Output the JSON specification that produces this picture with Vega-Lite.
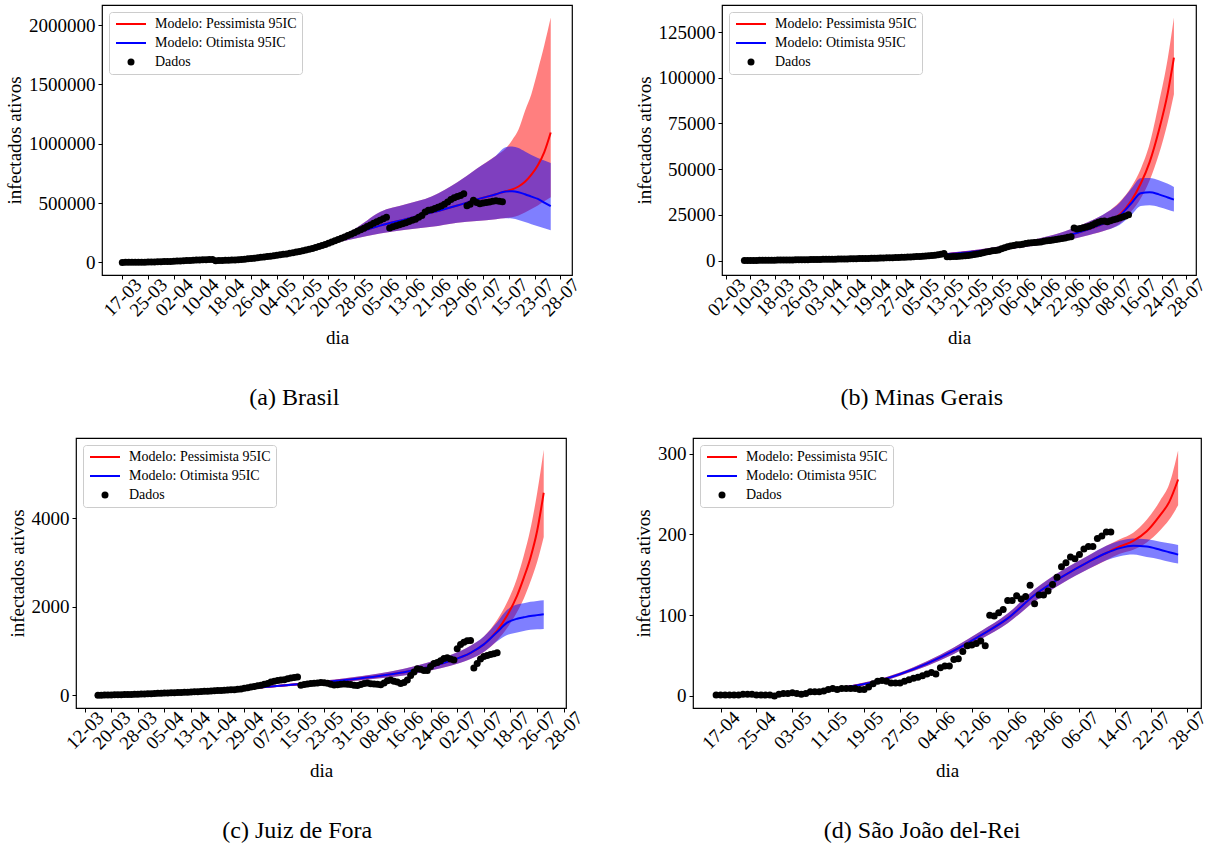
{
"$schema": "https://vega.github.io/schema/vega-lite/v6.json",
"background": "white",
"padding": {"left": 4, "top": 4, "right": 0, "bottom": 0},
"datasets": {
"aM": [
{"x":40,"r":35000,"rl":32000,"rh":38000,"b":35000,"bl":32000,"bh":38000},
{"x":48,"r":62000,"rl":56000,"rh":68000,"b":62000,"bl":56000,"bh":68000},
{"x":56,"r":100000,"rl":90000,"rh":112000,"b":100000,"bl":90000,"bh":112000},
{"x":64,"r":165000,"rl":150000,"rh":185000,"b":165000,"bl":150000,"bh":185000},
{"x":72,"r":240000,"rl":200000,"rh":280000,"b":240000,"bl":200000,"bh":280000},
{"x":80,"r":310000,"rl":243000,"rh":425000,"b":310000,"bl":243000,"bh":425000},
{"x":88,"r":365000,"rl":275000,"rh":490000,"b":365000,"bl":275000,"bh":490000},
{"x":96,"r":420000,"rl":300000,"rh":555000,"b":420000,"bl":300000,"bh":555000},
{"x":104,"r":480000,"rl":335000,"rh":676000,"b":480000,"bl":335000,"bh":676000},
{"x":110,"r":530000,"rl":350000,"rh":790000,"b":530000,"bl":350000,"bh":790000},
{"x":116,"r":575000,"rl":365000,"rh":900000,"b":575000,"bl":365000,"bh":900000},
{"x":119,"r":600000,"rl":375000,"rh":960000,"b":598000,"bl":372000,"bh":970000},
{"x":121,"r":615000,"rl":380000,"rh":1030000,"b":600000,"bl":370000,"bh":977000},
{"x":123,"r":640000,"rl":395000,"rh":1120000,"b":592000,"bl":358000,"bh":965000},
{"x":125,"r":680000,"rl":420000,"rh":1276000,"b":575000,"bl":340000,"bh":935000},
{"x":127,"r":740000,"rl":450000,"rh":1420000,"b":555000,"bl":322000,"bh":905000},
{"x":129,"r":820000,"rl":480000,"rh":1620000,"b":535000,"bl":305000,"bh":880000},
{"x":131,"r":930000,"rl":515000,"rh":1830000,"b":505000,"bl":288000,"bh":860000},
{"x":133,"r":1095000,"rl":550000,"rh":2064000,"b":475000,"bl":271000,"bh":838000}
],
"aP": [
{"x":0,"y":300},{"x":1,"y":450},{"x":2,"y":600},{"x":3,"y":900},{"x":4,"y":1100},{"x":5,"y":1500},{"x":6,"y":2000},{"x":7,"y":2500},{"x":8,"y":3000},{"x":9,"y":3500},
{"x":10,"y":4200},{"x":11,"y":5000},{"x":12,"y":5800},{"x":13,"y":6800},{"x":14,"y":7500},{"x":15,"y":8500},{"x":16,"y":10000},{"x":17,"y":11000},{"x":18,"y":12500},{"x":19,"y":14000},
{"x":20,"y":15500},{"x":21,"y":16500},{"x":22,"y":18000},{"x":23,"y":19500},{"x":24,"y":21000},{"x":25,"y":22500},{"x":26,"y":23000},{"x":27,"y":24000},{"x":28,"y":25000},{"x":29,"y":15000},
{"x":30,"y":16000},{"x":31,"y":17000},{"x":32,"y":17500},{"x":33,"y":18000},{"x":34,"y":19500},{"x":35,"y":21000},{"x":36,"y":23000},{"x":37,"y":25000},{"x":38,"y":27000},{"x":39,"y":30000},
{"x":40,"y":33000},{"x":41,"y":36000},{"x":42,"y":40000},{"x":43,"y":43000},{"x":44,"y":46000},{"x":45,"y":49000},{"x":46,"y":52000},{"x":47,"y":56000},{"x":48,"y":60000},{"x":49,"y":64000},
{"x":50,"y":68000},{"x":51,"y":72000},{"x":52,"y":77000},{"x":53,"y":82000},{"x":54,"y":87000},{"x":55,"y":92000},{"x":56,"y":98000},{"x":57,"y":104000},{"x":58,"y":111000},{"x":59,"y":118000},
{"x":60,"y":126000},{"x":61,"y":134000},{"x":62,"y":143000},{"x":63,"y":152000},{"x":64,"y":162000},{"x":65,"y":172000},{"x":66,"y":182000},{"x":67,"y":193000},{"x":68,"y":204000},{"x":69,"y":215000},
{"x":70,"y":226000},{"x":71,"y":238000},{"x":72,"y":250000},{"x":73,"y":262000},{"x":74,"y":275000},{"x":75,"y":288000},{"x":76,"y":302000},{"x":77,"y":316000},{"x":78,"y":330000},{"x":79,"y":343000},
{"x":80,"y":355000},{"x":81,"y":368000},{"x":82,"y":380000},{"x":83,"y":290000},{"x":84,"y":300000},{"x":85,"y":310000},{"x":86,"y":318000},{"x":87,"y":327000},{"x":88,"y":335000},{"x":89,"y":345000},
{"x":90,"y":355000},{"x":91,"y":365000},{"x":92,"y":380000},{"x":93,"y":395000},{"x":94,"y":425000},{"x":95,"y":440000},{"x":96,"y":445000},{"x":97,"y":455000},{"x":98,"y":465000},{"x":99,"y":475000},
{"x":100,"y":490000},{"x":101,"y":510000},{"x":102,"y":530000},{"x":103,"y":545000},{"x":104,"y":555000},{"x":105,"y":565000},{"x":106,"y":578000},{"x":107,"y":478000},{"x":108,"y":490000},{"x":109,"y":525000},
{"x":110,"y":505000},{"x":111,"y":495000},{"x":112,"y":500000},{"x":113,"y":505000},{"x":114,"y":510000},{"x":115,"y":515000},{"x":116,"y":520000},{"x":117,"y":515000},{"x":118,"y":512000}
],
"bM": [
{"x":60,"r":2200,"rl":2000,"rh":2500,"b":2200,"bl":2000,"bh":2500},
{"x":72,"r":3400,"rl":3000,"rh":3900,"b":3400,"bl":3000,"bh":3900},
{"x":80,"r":4600,"rl":4000,"rh":5300,"b":4600,"bl":4000,"bh":5300},
{"x":88,"r":6100,"rl":5200,"rh":7100,"b":6100,"bl":5200,"bh":7100},
{"x":96,"r":8000,"rl":6800,"rh":9500,"b":8000,"bl":6800,"bh":9500},
{"x":104,"r":10300,"rl":8700,"rh":12300,"b":10300,"bl":8700,"bh":12300},
{"x":112,"r":13300,"rl":11000,"rh":16000,"b":13300,"bl":11000,"bh":16000},
{"x":120,"r":17300,"rl":14000,"rh":21300,"b":17300,"bl":14000,"bh":21300},
{"x":126,"r":21000,"rl":16800,"rh":26500,"b":21000,"bl":16800,"bh":26500},
{"x":130,"r":25000,"rl":20000,"rh":32000,"b":24500,"bl":19500,"bh":31500},
{"x":134,"r":33000,"rl":27000,"rh":40500,"b":31500,"bl":25000,"bh":39500},
{"x":137,"r":42000,"rl":34000,"rh":50000,"b":36800,"bl":29800,"bh":45000},
{"x":140,"r":54000,"rl":44000,"rh":64000,"b":37300,"bl":30200,"bh":45200},
{"x":143,"r":71000,"rl":58000,"rh":86000,"b":36200,"bl":29300,"bh":44000},
{"x":146,"r":92000,"rl":76000,"rh":111000,"b":34500,"bl":27800,"bh":42000},
{"x":148,"r":111000,"rl":91000,"rh":133000,"b":33300,"bl":26800,"bh":40300}
],
"bP": [
{"x":6,"y":50},{"x":7,"y":60},{"x":8,"y":70},{"x":9,"y":80},{"x":10,"y":100},{"x":11,"y":110},{"x":12,"y":130},{"x":13,"y":150},{"x":14,"y":180},{"x":15,"y":200},
{"x":16,"y":220},{"x":17,"y":250},{"x":18,"y":270},{"x":19,"y":300},{"x":20,"y":320},{"x":21,"y":340},{"x":22,"y":370},{"x":23,"y":400},{"x":24,"y":420},{"x":25,"y":450},
{"x":26,"y":480},{"x":27,"y":500},{"x":28,"y":530},{"x":29,"y":560},{"x":30,"y":590},{"x":31,"y":620},{"x":32,"y":650},{"x":33,"y":680},{"x":34,"y":710},{"x":35,"y":740},
{"x":36,"y":770},{"x":37,"y":800},{"x":38,"y":830},{"x":39,"y":860},{"x":40,"y":900},{"x":41,"y":940},{"x":42,"y":980},{"x":43,"y":1020},{"x":44,"y":1060},{"x":45,"y":1100},
{"x":46,"y":1140},{"x":47,"y":1180},{"x":48,"y":1230},{"x":49,"y":1280},{"x":50,"y":1330},{"x":51,"y":1380},{"x":52,"y":1430},{"x":53,"y":1480},{"x":54,"y":1540},{"x":55,"y":1600},
{"x":56,"y":1660},{"x":57,"y":1720},{"x":58,"y":1790},{"x":59,"y":1860},{"x":60,"y":1930},{"x":61,"y":2000},{"x":62,"y":2080},{"x":63,"y":2160},{"x":64,"y":2250},{"x":65,"y":2350},
{"x":66,"y":2450},{"x":67,"y":2600},{"x":68,"y":2750},{"x":69,"y":2950},{"x":70,"y":3200},{"x":71,"y":3500},{"x":72,"y":3800},{"x":73,"y":2100},{"x":74,"y":2150},{"x":75,"y":2200},
{"x":76,"y":2250},{"x":77,"y":2350},{"x":78,"y":2450},{"x":79,"y":2600},{"x":80,"y":2800},{"x":81,"y":3000},{"x":82,"y":3300},{"x":83,"y":3600},{"x":84,"y":3900},{"x":85,"y":4300},
{"x":86,"y":4700},{"x":87,"y":5000},{"x":88,"y":5300},{"x":89,"y":5500},{"x":90,"y":5800},{"x":91,"y":6400},{"x":92,"y":7000},{"x":93,"y":7600},{"x":94,"y":8000},{"x":95,"y":8300},
{"x":96,"y":8600},{"x":97,"y":8700},{"x":98,"y":8900},{"x":99,"y":9300},{"x":100,"y":9600},{"x":101,"y":9800},{"x":102,"y":9900},{"x":103,"y":10000},{"x":104,"y":10200},{"x":105,"y":10500},
{"x":106,"y":10800},{"x":107,"y":11000},{"x":108,"y":11300},{"x":109,"y":11500},{"x":110,"y":11800},{"x":111,"y":12100},{"x":112,"y":12400},{"x":113,"y":12700},{"x":114,"y":13000},{"x":115,"y":17800},
{"x":116,"y":17300},{"x":117,"y":17600},{"x":118,"y":18000},{"x":119,"y":18400},{"x":120,"y":18800},{"x":121,"y":19500},{"x":122,"y":20300},{"x":123,"y":21000},{"x":124,"y":21500},{"x":125,"y":21700},
{"x":126,"y":21200},{"x":127,"y":21800},{"x":128,"y":22300},{"x":129,"y":22800},{"x":130,"y":23300},{"x":131,"y":23800},{"x":132,"y":24400},{"x":133,"y":25000}
],
"cM": [
{"x":40,"r":110,"rl":100,"rh":120,"b":110,"bl":100,"bh":120},
{"x":48,"r":150,"rl":135,"rh":165,"b":150,"bl":135,"bh":165},
{"x":56,"r":200,"rl":180,"rh":220,"b":200,"bl":180,"bh":220},
{"x":64,"r":250,"rl":225,"rh":280,"b":250,"bl":225,"bh":280},
{"x":72,"r":300,"rl":270,"rh":335,"b":300,"bl":270,"bh":335},
{"x":80,"r":360,"rl":320,"rh":405,"b":360,"bl":320,"bh":405},
{"x":88,"r":430,"rl":380,"rh":490,"b":430,"bl":380,"bh":490},
{"x":96,"r":520,"rl":450,"rh":600,"b":520,"bl":450,"bh":600},
{"x":104,"r":650,"rl":560,"rh":760,"b":650,"bl":560,"bh":760},
{"x":110,"r":780,"rl":670,"rh":910,"b":780,"bl":670,"bh":910},
{"x":116,"r":960,"rl":820,"rh":1120,"b":960,"bl":820,"bh":1120},
{"x":120,"r":1150,"rl":980,"rh":1330,"b":1150,"bl":980,"bh":1330},
{"x":124,"r":1460,"rl":1240,"rh":1700,"b":1430,"bl":1220,"bh":1650},
{"x":127,"r":1800,"rl":1520,"rh":2100,"b":1640,"bl":1360,"bh":1930},
{"x":130,"r":2250,"rl":1880,"rh":2650,"b":1730,"bl":1420,"bh":2050},
{"x":132,"r":2650,"rl":2180,"rh":3150,"b":1760,"bl":1450,"bh":2080},
{"x":134,"r":3100,"rl":2560,"rh":3750,"b":1790,"bl":1480,"bh":2110},
{"x":136,"r":3700,"rl":3000,"rh":4550,"b":1810,"bl":1490,"bh":2130},
{"x":138,"r":4570,"rl":3570,"rh":5540,"b":1830,"bl":1500,"bh":2143}
],
"cP": [
{"x":4,"y":3},{"x":5,"y":5},{"x":6,"y":7},{"x":7,"y":9},{"x":8,"y":11},{"x":9,"y":13},{"x":10,"y":15},{"x":11,"y":17},{"x":12,"y":19},{"x":13,"y":21},
{"x":14,"y":23},{"x":15,"y":25},{"x":16,"y":28},{"x":17,"y":31},{"x":18,"y":34},{"x":19,"y":37},{"x":20,"y":40},{"x":21,"y":43},{"x":22,"y":46},{"x":23,"y":49},
{"x":24,"y":52},{"x":25,"y":55},{"x":26,"y":58},{"x":27,"y":61},{"x":28,"y":64},{"x":29,"y":67},{"x":30,"y":70},{"x":31,"y":73},{"x":32,"y":76},{"x":33,"y":80},
{"x":34,"y":84},{"x":35,"y":88},{"x":36,"y":92},{"x":37,"y":96},{"x":38,"y":100},{"x":39,"y":104},{"x":40,"y":108},{"x":41,"y":112},{"x":42,"y":116},{"x":43,"y":120},
{"x":44,"y":125},{"x":45,"y":130},{"x":46,"y":136},{"x":47,"y":145},{"x":48,"y":160},{"x":49,"y":175},{"x":50,"y":190},{"x":51,"y":200},{"x":52,"y":215},{"x":53,"y":230},
{"x":54,"y":250},{"x":55,"y":270},{"x":56,"y":300},{"x":57,"y":320},{"x":58,"y":335},{"x":59,"y":345},{"x":60,"y":355},{"x":61,"y":375},{"x":62,"y":395},{"x":63,"y":405},
{"x":64,"y":415},{"x":65,"y":230},{"x":66,"y":245},{"x":67,"y":255},{"x":68,"y":270},{"x":69,"y":275},{"x":70,"y":280},{"x":71,"y":290},{"x":72,"y":285},{"x":73,"y":275},
{"x":74,"y":250},{"x":75,"y":235},{"x":76,"y":240},{"x":77,"y":250},{"x":78,"y":255},{"x":79,"y":250},{"x":80,"y":245},{"x":81,"y":230},{"x":82,"y":225},{"x":83,"y":245},
{"x":84,"y":270},{"x":85,"y":280},{"x":86,"y":265},{"x":87,"y":255},{"x":88,"y":250},{"x":89,"y":240},{"x":90,"y":280},{"x":91,"y":330},{"x":92,"y":345},{"x":93,"y":320},
{"x":94,"y":300},{"x":95,"y":270},{"x":96,"y":290},{"x":97,"y":350},{"x":98,"y":450},{"x":99,"y":530},{"x":100,"y":600},{"x":101,"y":590},{"x":102,"y":560},{"x":103,"y":560},
{"x":104,"y":650},{"x":105,"y":720},{"x":106,"y":740},{"x":107,"y":780},{"x":108,"y":830},{"x":109,"y":850},{"x":110,"y":820},{"x":111,"y":800},{"x":112,"y":1050},{"x":113,"y":1150},
{"x":114,"y":1200},{"x":115,"y":1230},{"x":116,"y":1240},{"x":117,"y":620},{"x":118,"y":720},{"x":119,"y":820},{"x":120,"y":880},{"x":121,"y":900},{"x":122,"y":920},{"x":123,"y":940},{"x":124,"y":960}
],
"dM": [
{"x":28,"r":11,"rl":10,"rh":12,"b":11,"bl":10,"bh":12},
{"x":34,"r":17,"rl":15,"rh":19,"b":17,"bl":15,"bh":19},
{"x":40,"r":27,"rl":25,"rh":29,"b":27,"bl":25,"bh":29},
{"x":46,"r":40,"rl":37,"rh":43,"b":40,"bl":37,"bh":43},
{"x":52,"r":56,"rl":52,"rh":60,"b":56,"bl":52,"bh":60},
{"x":58,"r":75,"rl":70,"rh":80,"b":75,"bl":70,"bh":80},
{"x":64,"r":96,"rl":90,"rh":102,"b":96,"bl":90,"bh":102},
{"x":70,"r":125,"rl":117,"rh":132,"b":125,"bl":117,"bh":132},
{"x":76,"r":147,"rl":139,"rh":155,"b":147,"bl":139,"bh":155},
{"x":82,"r":166,"rl":157,"rh":174,"b":166,"bl":157,"bh":174},
{"x":86,"r":177,"rl":168,"rh":186,"b":177,"bl":168,"bh":186},
{"x":89,"r":185,"rl":176,"rh":194,"b":183,"bl":173,"bh":192},
{"x":92,"r":192,"rl":181,"rh":202,"b":186,"bl":175,"bh":195},
{"x":95,"r":204,"rl":190,"rh":218,"b":185,"bl":172,"bh":194},
{"x":98,"r":224,"rl":205,"rh":242,"b":181,"bl":169,"bh":191},
{"x":100,"r":240,"rl":218,"rh":262,"b":178,"bl":166,"bh":189},
{"x":102,"r":268,"rl":236,"rh":304,"b":175,"bl":164,"bh":187}
],
"dP": [
{"x":-1,"y":1},{"x":0,"y":1},{"x":1,"y":1},{"x":2,"y":1},{"x":3,"y":1},{"x":4,"y":1},{"x":5,"y":2},{"x":6,"y":2},{"x":7,"y":2},{"x":8,"y":1},
{"x":9,"y":1},{"x":10,"y":1},{"x":11,"y":1},{"x":12,"y":0},{"x":13,"y":2},{"x":14,"y":3},{"x":15,"y":3},{"x":16,"y":4},{"x":17,"y":3},{"x":18,"y":2},
{"x":19,"y":3},{"x":20,"y":5},{"x":21,"y":5},{"x":22,"y":5},{"x":23,"y":6},{"x":24,"y":8},{"x":25,"y":9},{"x":26,"y":8},{"x":27,"y":9},{"x":28,"y":9},
{"x":29,"y":9},{"x":30,"y":9},{"x":31,"y":8},{"x":32,"y":8},{"x":33,"y":11},{"x":34,"y":15},{"x":35,"y":18},{"x":36,"y":19},{"x":37,"y":18},{"x":38,"y":16},
{"x":39,"y":16},{"x":40,"y":16},{"x":41,"y":18},{"x":42,"y":20},{"x":43,"y":22},{"x":44,"y":23},{"x":45,"y":25},{"x":46,"y":27},{"x":47,"y":29},{"x":48,"y":27},
{"x":49,"y":35},{"x":50,"y":37},{"x":51,"y":37},{"x":52,"y":45},{"x":53,"y":46},{"x":54,"y":55},{"x":55,"y":62},{"x":56,"y":63},{"x":57,"y":65},{"x":58,"y":68},
{"x":59,"y":62},{"x":60,"y":100},{"x":61,"y":99},{"x":62,"y":103},{"x":63,"y":107},{"x":64,"y":118},{"x":65,"y":118},{"x":66,"y":124},{"x":67,"y":120},{"x":68,"y":123},
{"x":69,"y":137},{"x":70,"y":114},{"x":71,"y":125},{"x":72,"y":125},{"x":73,"y":130},{"x":74,"y":138},{"x":75,"y":147},{"x":76,"y":160},{"x":77,"y":165},{"x":78,"y":172},
{"x":79,"y":170},{"x":80,"y":175},{"x":81,"y":182},{"x":82,"y":185},{"x":83,"y":185},{"x":84,"y":195},{"x":85,"y":198},{"x":86,"y":203},{"x":87,"y":203}
]
},
"vconcat": [
{"hconcat": [
{"hconcat": [
{"width": 1, "height": 1, "data": {"values": []}, "mark": "point", "view": {"stroke": "transparent", "fill": "transparent"}},
{"width": 470, "height": 270, "title": "(a) Brasil",
"layer": [
{"data": {"name": "aM"}, "mark": {"type": "area", "color": "#ff0000", "opacity": 0.5, "interpolate": "monotone"},
"encoding": {"x": {"field": "x", "type": "quantitative", "title": "dia", "scale": {"domain": [-6.3, 139.6], "nice": false, "zero": false}, "axis": {"tickCount": 60, "labelOverlap": false, "values": [0,8,16,24,32,40,48,56,64,72,80,88,96,104,112,120,128,136], "labelExpr": "['17-03','25-03','02-04','10-04','18-04','26-04','04-05','12-05','20-05','28-05','05-06','13-06','21-06','29-06','07-07','15-07','23-07','28-07'][round(datum.value/8)]"}},
"y": {"field": "rl", "type": "quantitative", "title": "infectados ativos", "scale": {"domain": [-106000, 2170000], "nice": false, "zero": false}, "axis": {"tickCount": 20, "labelOverlap": false, "values": [0,500000,1000000,1500000,2000000], "format": "d"}},
"y2": {"field": "rh"}}},
{"data": {"name": "aM"}, "mark": {"type": "area", "color": "#0000ff", "opacity": 0.5, "interpolate": "monotone"},
"encoding": {"x": {"field": "x", "type": "quantitative", "title": "dia"}, "y": {"field": "bl", "type": "quantitative", "title": "infectados ativos"}, "y2": {"field": "bh"}}},
{"data": {"name": "aM"}, "mark": {"type": "line", "strokeWidth": 2, "interpolate": "monotone"},
"encoding": {"x": {"field": "x", "type": "quantitative", "title": "dia"}, "y": {"field": "r", "type": "quantitative", "title": "infectados ativos"},
"color": {"datum": "Modelo: Pessimista 95IC", "type": "nominal", "scale": {"domain": ["Modelo: Pessimista 95IC", "Modelo: Otimista 95IC", "Dados"], "range": ["#ff0000", "#0000ff", "#000000"]},
"legend": {"title": null, "orient": "top-left", "offset": 7, "padding": 5, "rowPadding": 5, "symbolOffset": 10, "labelOffset": 17, "symbolSize": 400, "strokeColor": "#cccccc", "fillColor": "white", "cornerRadius": 3, "labelFont": "Liberation Serif", "labelFontSize": 14, "labelColor": "black",
"encode": {"symbols": {"update": {"shape": {"signal": "datum.value === 'Dados' ? 'circle' : 'M-1.5,0L1.5,0'"}, "fill": {"signal": "datum.value === 'Dados' ? '#000000' : 'transparent'"}, "stroke": {"signal": "datum.value === 'Dados' ? '#000000' : (datum.value === 'Modelo: Pessimista 95IC' ? '#ff0000' : '#0000ff')"}, "strokeWidth": {"signal": "datum.value === 'Dados' ? 0 : 2"}, "size": {"signal": "datum.value === 'Dados' ? 49 : 400"}, "opacity": {"value": 1}}}}}}}},
{"data": {"name": "aM"}, "mark": {"type": "line", "strokeWidth": 2, "interpolate": "monotone"},
"encoding": {"x": {"field": "x", "type": "quantitative", "title": "dia"}, "y": {"field": "b", "type": "quantitative", "title": "infectados ativos"}, "color": {"datum": "Modelo: Otimista 95IC", "type": "nominal"}}},
{"data": {"name": "aP"}, "mark": {"type": "circle", "size": 49, "opacity": 1},
"encoding": {"x": {"field": "x", "type": "quantitative", "title": "dia"}, "y": {"field": "y", "type": "quantitative", "title": "infectados ativos"}, "color": {"datum": "Dados", "type": "nominal"}}}
]}
], "spacing": -74, "resolve": {"scale": {"x": "independent", "y": "independent", "color": "independent"}, "legend": {"color": "independent"}}},
{"width": 474, "height": 270, "title": "(b) Minas Gerais",
"layer": [
{"data": {"name": "bM"}, "mark": {"type": "area", "color": "#ff0000", "opacity": 0.5, "interpolate": "monotone"},
"encoding": {"x": {"field": "x", "type": "quantitative", "title": "dia", "scale": {"domain": [-1.4, 155.3], "nice": false, "zero": false}, "axis": {"tickCount": 60, "labelOverlap": false, "values": [0,8,16,24,32,40,48,56,64,72,80,88,96,104,112,120,128,136,144,152], "labelExpr": "['02-03','10-03','18-03','26-03','03-04','11-04','19-04','27-04','05-05','13-05','21-05','29-05','06-06','14-06','22-06','30-06','08-07','16-07','24-07','28-07'][round(datum.value/8)]"}},
"y": {"field": "rl", "type": "quantitative", "title": "infectados ativos", "scale": {"domain": [-7900, 139800], "nice": false, "zero": false}, "axis": {"tickCount": 20, "labelOverlap": false, "values": [0,25000,50000,75000,100000,125000], "format": "d"}},
"y2": {"field": "rh"}}},
{"data": {"name": "bM"}, "mark": {"type": "area", "color": "#0000ff", "opacity": 0.5, "interpolate": "monotone"},
"encoding": {"x": {"field": "x", "type": "quantitative", "title": "dia"}, "y": {"field": "bl", "type": "quantitative", "title": "infectados ativos"}, "y2": {"field": "bh"}}},
{"data": {"name": "bM"}, "mark": {"type": "line", "strokeWidth": 2, "interpolate": "monotone"},
"encoding": {"x": {"field": "x", "type": "quantitative", "title": "dia"}, "y": {"field": "r", "type": "quantitative", "title": "infectados ativos"},
"color": {"datum": "Modelo: Pessimista 95IC", "type": "nominal", "scale": {"domain": ["Modelo: Pessimista 95IC", "Modelo: Otimista 95IC", "Dados"], "range": ["#ff0000", "#0000ff", "#000000"]},
"legend": {"title": null, "orient": "top-left", "offset": 7, "padding": 5, "rowPadding": 5, "symbolOffset": 10, "labelOffset": 17, "symbolSize": 400, "strokeColor": "#cccccc", "fillColor": "white", "cornerRadius": 3, "labelFont": "Liberation Serif", "labelFontSize": 14, "labelColor": "black",
"encode": {"symbols": {"update": {"shape": {"signal": "datum.value === 'Dados' ? 'circle' : 'M-1.5,0L1.5,0'"}, "fill": {"signal": "datum.value === 'Dados' ? '#000000' : 'transparent'"}, "stroke": {"signal": "datum.value === 'Dados' ? '#000000' : (datum.value === 'Modelo: Pessimista 95IC' ? '#ff0000' : '#0000ff')"}, "strokeWidth": {"signal": "datum.value === 'Dados' ? 0 : 2"}, "size": {"signal": "datum.value === 'Dados' ? 49 : 400"}, "opacity": {"value": 1}}}}}}}},
{"data": {"name": "bM"}, "mark": {"type": "line", "strokeWidth": 2, "interpolate": "monotone"},
"encoding": {"x": {"field": "x", "type": "quantitative", "title": "dia"}, "y": {"field": "b", "type": "quantitative", "title": "infectados ativos"}, "color": {"datum": "Modelo: Otimista 95IC", "type": "nominal"}}},
{"data": {"name": "bP"}, "mark": {"type": "circle", "size": 49, "opacity": 1},
"encoding": {"x": {"field": "x", "type": "quantitative", "title": "dia"}, "y": {"field": "y", "type": "quantitative", "title": "infectados ativos"}, "color": {"datum": "Dados", "type": "nominal"}}}
]}
], "spacing": 50, "resolve": {"scale": {"x": "independent", "y": "independent", "color": "independent"}, "legend": {"color": "independent"}}},
{"hconcat": [
{"width": 490, "height": 270, "title": "(c) Juiz de Fora",
"layer": [
{"data": {"name": "cM"}, "mark": {"type": "area", "color": "#ff0000", "opacity": 0.5, "interpolate": "monotone"},
"encoding": {"x": {"field": "x", "type": "quantitative", "title": "dia", "scale": {"domain": [-2.6, 144.7], "nice": false, "zero": false}, "axis": {"tickCount": 60, "labelOverlap": false, "values": [0,8,16,24,32,40,48,56,64,72,80,88,96,104,112,120,128,136,144], "labelExpr": "['12-03','20-03','28-03','05-04','13-04','21-04','29-04','07-05','15-05','23-05','31-05','08-06','16-06','24-06','02-07','10-07','18-07','26-07','28-07'][round(datum.value/8)]"}},
"y": {"field": "rl", "type": "quantitative", "title": "infectados ativos", "scale": {"domain": [-284, 5804], "nice": false, "zero": false}, "axis": {"tickCount": 20, "labelOverlap": false, "values": [0,2000,4000], "format": "d"}},
"y2": {"field": "rh"}}},
{"data": {"name": "cM"}, "mark": {"type": "area", "color": "#0000ff", "opacity": 0.5, "interpolate": "monotone"},
"encoding": {"x": {"field": "x", "type": "quantitative", "title": "dia"}, "y": {"field": "bl", "type": "quantitative", "title": "infectados ativos"}, "y2": {"field": "bh"}}},
{"data": {"name": "cM"}, "mark": {"type": "line", "strokeWidth": 2, "interpolate": "monotone"},
"encoding": {"x": {"field": "x", "type": "quantitative", "title": "dia"}, "y": {"field": "r", "type": "quantitative", "title": "infectados ativos"},
"color": {"datum": "Modelo: Pessimista 95IC", "type": "nominal", "scale": {"domain": ["Modelo: Pessimista 95IC", "Modelo: Otimista 95IC", "Dados"], "range": ["#ff0000", "#0000ff", "#000000"]},
"legend": {"title": null, "orient": "top-left", "offset": 7, "padding": 5, "rowPadding": 5, "symbolOffset": 10, "labelOffset": 17, "symbolSize": 400, "strokeColor": "#cccccc", "fillColor": "white", "cornerRadius": 3, "labelFont": "Liberation Serif", "labelFontSize": 14, "labelColor": "black",
"encode": {"symbols": {"update": {"shape": {"signal": "datum.value === 'Dados' ? 'circle' : 'M-1.5,0L1.5,0'"}, "fill": {"signal": "datum.value === 'Dados' ? '#000000' : 'transparent'"}, "stroke": {"signal": "datum.value === 'Dados' ? '#000000' : (datum.value === 'Modelo: Pessimista 95IC' ? '#ff0000' : '#0000ff')"}, "strokeWidth": {"signal": "datum.value === 'Dados' ? 0 : 2"}, "size": {"signal": "datum.value === 'Dados' ? 49 : 400"}, "opacity": {"value": 1}}}}}}}},
{"data": {"name": "cM"}, "mark": {"type": "line", "strokeWidth": 2, "interpolate": "monotone"},
"encoding": {"x": {"field": "x", "type": "quantitative", "title": "dia"}, "y": {"field": "b", "type": "quantitative", "title": "infectados ativos"}, "color": {"datum": "Modelo: Otimista 95IC", "type": "nominal"}}},
{"data": {"name": "cP"}, "mark": {"type": "circle", "size": 49, "opacity": 1},
"encoding": {"x": {"field": "x", "type": "quantitative", "title": "dia"}, "y": {"field": "y", "type": "quantitative", "title": "infectados ativos"}, "color": {"datum": "Dados", "type": "nominal"}}}
]},
{"width": 508, "height": 270, "title": "(d) São João del-Rei",
"layer": [
{"data": {"name": "dM"}, "mark": {"type": "area", "color": "#ff0000", "opacity": 0.5, "interpolate": "monotone"},
"encoding": {"x": {"field": "x", "type": "quantitative", "title": "dia", "scale": {"domain": [-6.15, 107.1], "nice": false, "zero": false}, "axis": {"tickCount": 60, "labelOverlap": false, "values": [0,8,16,24,32,40,48,56,64,72,80,88,96,104], "labelExpr": "['17-04','25-04','03-05','11-05','19-05','27-05','04-06','12-06','20-06','28-06','06-07','14-07','22-07','28-07'][round(datum.value/8)]"}},
"y": {"field": "rl", "type": "quantitative", "title": "infectados ativos", "scale": {"domain": [-15, 319.4], "nice": false, "zero": false}, "axis": {"tickCount": 20, "labelOverlap": false, "values": [0,100,200,300], "format": "d"}},
"y2": {"field": "rh"}}},
{"data": {"name": "dM"}, "mark": {"type": "area", "color": "#0000ff", "opacity": 0.5, "interpolate": "monotone"},
"encoding": {"x": {"field": "x", "type": "quantitative", "title": "dia"}, "y": {"field": "bl", "type": "quantitative", "title": "infectados ativos"}, "y2": {"field": "bh"}}},
{"data": {"name": "dM"}, "mark": {"type": "line", "strokeWidth": 2, "interpolate": "monotone"},
"encoding": {"x": {"field": "x", "type": "quantitative", "title": "dia"}, "y": {"field": "r", "type": "quantitative", "title": "infectados ativos"},
"color": {"datum": "Modelo: Pessimista 95IC", "type": "nominal", "scale": {"domain": ["Modelo: Pessimista 95IC", "Modelo: Otimista 95IC", "Dados"], "range": ["#ff0000", "#0000ff", "#000000"]},
"legend": {"title": null, "orient": "top-left", "offset": 7, "padding": 5, "rowPadding": 5, "symbolOffset": 10, "labelOffset": 17, "symbolSize": 400, "strokeColor": "#cccccc", "fillColor": "white", "cornerRadius": 3, "labelFont": "Liberation Serif", "labelFontSize": 14, "labelColor": "black",
"encode": {"symbols": {"update": {"shape": {"signal": "datum.value === 'Dados' ? 'circle' : 'M-1.5,0L1.5,0'"}, "fill": {"signal": "datum.value === 'Dados' ? '#000000' : 'transparent'"}, "stroke": {"signal": "datum.value === 'Dados' ? '#000000' : (datum.value === 'Modelo: Pessimista 95IC' ? '#ff0000' : '#0000ff')"}, "strokeWidth": {"signal": "datum.value === 'Dados' ? 0 : 2"}, "size": {"signal": "datum.value === 'Dados' ? 49 : 400"}, "opacity": {"value": 1}}}}}}}},
{"data": {"name": "dM"}, "mark": {"type": "line", "strokeWidth": 2, "interpolate": "monotone"},
"encoding": {"x": {"field": "x", "type": "quantitative", "title": "dia"}, "y": {"field": "b", "type": "quantitative", "title": "infectados ativos"}, "color": {"datum": "Modelo: Otimista 95IC", "type": "nominal"}}},
{"data": {"name": "dP"}, "mark": {"type": "circle", "size": 49, "opacity": 1},
"encoding": {"x": {"field": "x", "type": "quantitative", "title": "dia"}, "y": {"field": "y", "type": "quantitative", "title": "infectados ativos"}, "color": {"datum": "Dados", "type": "nominal"}}}
]}
], "spacing": 45, "resolve": {"scale": {"x": "independent", "y": "independent", "color": "independent"}, "legend": {"color": "independent"}}}
],
"spacing": 26,
"resolve": {"scale": {"x": "independent", "y": "independent", "color": "independent"}, "legend": {"color": "independent"}},
"config": {
"font": "Liberation Serif",
"view": {"stroke": "black", "strokeWidth": 1.2},
"axis": {"domain": false, "grid": false, "ticks": true, "tickColor": "black", "tickSize": 4, "tickWidth": 1, "labelFont": "Liberation Serif", "labelFontSize": 19, "labelColor": "black", "labelOverlap": false, "labelFlush": false, "labelBound": false, "titleFont": "Liberation Serif", "titleFontSize": 19, "titleFontWeight": "normal", "titleColor": "black"},
"axisX": {"labelAngle": -45, "labelAlign": "center", "labelBaseline": "middle", "labelPadding": 18, "titlePadding": 9},
"axisY": {"labelPadding": 3, "titlePadding": 4},
"title": {"orient": "bottom", "offset": 38, "font": "Liberation Serif", "fontSize": 24, "fontWeight": "normal", "color": "black", "anchor": "middle", "frame": "bounds"}
}
}
